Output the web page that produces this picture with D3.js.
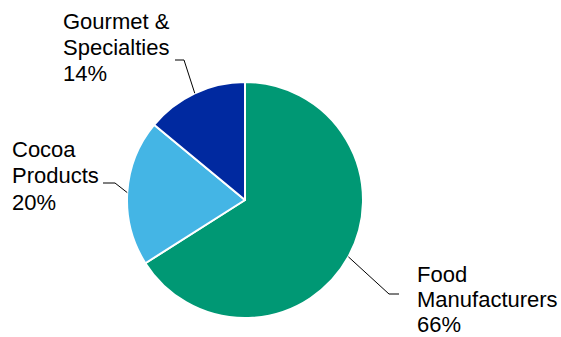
<!DOCTYPE html>
<html>
<head>
<meta charset="utf-8">
<script src="https://cdn.jsdelivr.net/npm/d3@7"></script>
<style>
  html, body { margin: 0; padding: 0; background: #fff; }
  svg { display: block; }
  text { font-family: "Liberation Sans", Arial, sans-serif; fill: #000; }
</style>
</head>
<body>
<svg id="chart" width="561" height="337"></svg>
<script>
// Segment shares of sales
const categories = ["Food Manufacturers", "Cocoa Products", "Gourmet & Specialties"];
const values = [66, 20, 14];
const labelLines = [["Food", "Manufacturers"], ["Cocoa", "Products"], ["Gourmet &", "Specialties"]];
const colors = ["#009874", "#44B5E5", "#0029A0"];

const svg = d3.select("#chart");
const cx = 245, cy = 200, radius = 118;

const pie = d3.pie().sort(null).value(d => d.value);
const arcs = pie(categories.map((c, i) => ({ name: c, value: values[i], lines: labelLines[i], color: colors[i] })));
const arc = d3.arc().innerRadius(0).outerRadius(radius);

const g = svg.append("g").attr("transform", `translate(${cx},${cy})`);

g.selectAll("path.slice")
  .data(arcs)
  .join("path")
  .attr("class", "slice")
  .attr("d", arc)
  .attr("fill", d => d.data.color)
  .attr("stroke", "#fff")
  .attr("stroke-width", 2)
  .attr("stroke-linejoin", "round");

// Label placement: elbow of the leader line, end of its horizontal run, text anchor, line spacing
const labelLayout = [
  { elbow: [389, 294], end: [399, 294], text: [417, 282], step: 24.8 },
  { elbow: [115, 183], end: [103, 183], text: [12, 157], step: 26.3 },
  { elbow: [184, 60], end: [175, 60], text: [63, 29], step: 26 }
];

arcs.forEach((d, i) => {
  const mid = (d.startAngle + d.endAngle) / 2;
  const sx = cx + radius * Math.sin(mid);
  const sy = cy - radius * Math.cos(mid);
  const L = labelLayout[i];
  svg.append("polyline")
    .attr("points", [[sx, sy], L.elbow, L.end].map(p => p.join(",")).join(" "))
    .attr("fill", "none")
    .attr("stroke", "#000")
    .attr("stroke-width", 1);

  const t = svg.append("text")
    .attr("x", L.text[0])
    .attr("y", L.text[1])
    .attr("font-size", 22);
  const rows = d.data.lines.concat([d.data.value + "%"]);
  rows.forEach((r, j) => {
    t.append("tspan")
      .attr("x", L.text[0])
      .attr("y", L.text[1] + j * L.step)
      .text(r);
  });
});
</script>
</body>
</html>
